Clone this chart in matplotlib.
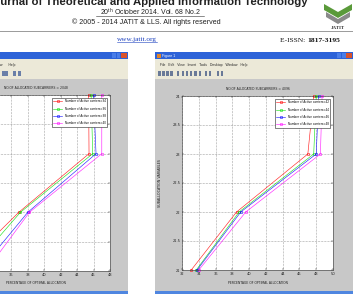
import numpy as np
import matplotlib
matplotlib.use('Agg')
import matplotlib.pyplot as plt
from matplotlib.patches import Rectangle, Polygon
from matplotlib.lines import Line2D

plt.rcParams['mathtext.fontset'] = 'custom'
plt.rcParams['mathtext.rm'] = 'Liberation Sans'

# data (x = percentage of optimal allocation)
levels = [21, 22, 23, 24]

left_labels = ['Number of Active carriers=34', 'Number of Active carriers=36',
               'Number of Active carriers=38', 'Number of Active carriers=40']
left_34 = [29.7, 36.9, 45.45, 45.4]
left_36 = [30.9, 37.1, 45.9, 45.7]
left_38 = [32.1, 38.0, 46.3, 46.0]
left_40 = [32.9, 38.2, 47.0, 47.0]

right_labels = ['Number of Active carriers=42', 'Number of Active carriers=44',
                'Number of Active carriers=46', 'Number of Active carriers=48']
right_42 = [33.1, 38.5, 47.0, 47.7]
right_44 = [33.7, 38.8, 47.7, 48.0]
right_46 = [33.8, 39.0, 48.0, 48.3]
right_48 = [34.0, 39.6, 48.5, 48.7]

colors = ['#ff0000', '#00e000', '#0000ff', '#ff00ff']

W, H = 353, 298
fig = plt.figure(figsize=(W / 100, H / 100), dpi=100)
fig.patch.set_facecolor('white')


def fx(x):
    return x / W


def fy(y):
    return 1 - y / H


def rect(x0, y0, x1, y1, color, z=-5):
    fig.add_artist(Rectangle((fx(x0), fy(y1)), (x1 - x0) / W, (y1 - y0) / H,
                             transform=fig.transFigure, facecolor=color,
                             edgecolor='none', zorder=z))


def hline(x0, x1, y, color, lw=0.6, z=2):
    fig.add_artist(Line2D([fx(x0), fx(x1)], [fy(y), fy(y)], transform=fig.transFigure,
                          color=color, lw=lw, zorder=z))


def txt(x, y, s, **kw):
    fig.text(fx(x), fy(y), s, **kw)


# ---- page header ----
txt(147, 5, 'Journal of Theoretical and Applied Information Technology',
    ha='center', va='baseline', fontsize=8.2, fontweight='bold',
    family='Liberation Sans', color='#222222')
txt(150, 15, r'20$^{\mathrm{th}}$ October 2014. Vol. 68 No.2', ha='center', va='baseline',
    fontsize=5.0, family='Liberation Sans', color='#222222')
hline(96, 204, 16.2, '#333333', lw=0.4)
txt(146, 23.5, '\u00a9 2005 - 2014 JATIT & LLS. All rights reserved',
    ha='center', va='baseline', fontsize=5.1, family='Liberation Sans', color='#222222')
hline(0, 353, 30.5, '#9a9a9a', lw=0.7)
txt(137, 41.5, 'www.jatit.org', ha='center', va='baseline', fontsize=5.2,
    family='Liberation Serif', color='#1a3fbf')
hline(117, 157, 42.5, '#1a3fbf', lw=0.4)
txt(280, 41.5, 'E-ISSN: ', ha='left', va='baseline', fontsize=5.4,
    family='Liberation Serif', color='#111111')
txt(307, 41.5, '1817-3195', ha='left', va='baseline', fontsize=5.4,
    family='Liberation Serif', fontweight='bold', color='#111111')

# logo (rough)
for pts, c in [([(324, 4), (338, 12), (352, 4), (352, 10), (338, 18), (324, 10)], '#5a9a3a'),
               ([(326, 12), (338, 19), (350, 12), (350, 17), (338, 24), (326, 17)], '#8a8a8a')]:
    fig.add_artist(Polygon([(fx(a), fy(b)) for a, b in pts], closed=True,
                           transform=fig.transFigure, facecolor=c, edgecolor='none', zorder=1))
txt(338, 29, 'JATIT', ha='center', va='baseline', fontsize=3.6, fontweight='bold',
    family='Liberation Serif', color='#333333')


# ---- window frames ----
def window(x0, x1, title):
    rect(x0, 52, x1, 59, '#2d63d8')
    rect(x0, 59, x1, 79, '#ece9d8')
    rect(x0, 79, x1, 291, '#c8c8c8')
    rect(x0, 291, x1, 293.5, '#4f86e0')
    rect(x1 - 16, 53, x1 - 12, 58, '#4a7ee8', z=-4)
    rect(x1 - 11.5, 53, x1 - 7.5, 58, '#4a7ee8', z=-4)
    rect(x1 - 7, 53, x1 - 1, 58, '#d8532c', z=-4)
    if title:
        txt(x0 + 7, 57, title, fontsize=2.6, color='white', va='baseline',
            family='Liberation Sans')
        rect(x0 + 2, 53.5, x0 + 5.5, 57.5, '#e0842a', z=-4)


window(0, 128, None)
window(155, 353, 'Figure 1')

txt(0, 66, 'w      Help', fontsize=2.4, va='baseline', family='Liberation Sans', color='#222')
txt(160, 66, 'File   Edit   View   Insert   Tools   Desktop   Window   Help',
    fontsize=2.4, va='baseline', family='Liberation Sans', color='#222')
for x in [2, 5, 13, 18]:
    rect(x, 71, x + 2.5, 76, '#6a7fa8', z=-4)
for x in [158, 162, 166, 170, 177, 182, 186, 190, 194, 199, 205, 209, 217, 221]:
    rect(x, 71, x + 2.5, 76, '#6a7a98', z=-4)


# ---- plots ----
def panel(box, xlim, series, labels, title, show_y, first_xlabel):
    left, top, right, bottom = box
    ax = fig.add_axes([fx(left), fy(bottom), (right - left) / W, (bottom - top) / H])
    ax.set_facecolor('white')
    for xs, c, lab in zip(series, colors, labels):
        ax.plot(xs, levels, '-s', color=c, lw=0.45, ms=2.0, mfc='none', mew=0.45,
                label=lab, clip_on=False, alpha=0.85)
    ax.set_xlim(*xlim)
    ax.set_ylim(21, 24)
    xt = np.arange(xlim[0], xlim[1] + 1, 2)
    ax.set_xticks(xt)
    ax.set_xticklabels(['%g' % v if v >= first_xlabel else '' for v in xt])
    yt = np.arange(21, 24.01, 0.5)
    ax.set_yticks(yt)
    ax.set_yticklabels(['%g' % v if show_y else '' for v in yt])
    ax.grid(True, linestyle=':', color='#555555', lw=0.4)
    ax.tick_params(direction='in', length=1.5, width=0.3, labelsize=2.6, pad=1.2,
                   colors='#222222', top=True, right=True)
    for s in ax.spines.values():
        s.set_linewidth(0.4)
        s.set_color('#333333')
    ax.set_title(title, fontsize=2.25, pad=4.5, color='#222222')
    ax.set_xlabel('PERCENTAGE OF OPTIMAL ALLOCATION', fontsize=2.25, color='#222222')
    ax.xaxis.set_label_coords(0.5, -10.5 / (bottom - top))
    if show_y:
        ax.set_ylabel('SUBALLOCATION VARIABLES', fontsize=2.4, color='#222222')
        ax.yaxis.set_label_coords(-20 / (right - left), 0.5)
    leg = ax.legend(loc='upper right', fontsize=2.0, fancybox=False, framealpha=1,
                    edgecolor='#222222', borderpad=0.6, handlelength=3.2,
                    labelspacing=1.2, borderaxespad=1.0)
    leg.get_frame().set_linewidth(0.4)
    return ax


panel((-38, 95, 110, 271), (30, 48), [left_34, left_36, left_38, left_40], left_labels,
      'NO.OF ALLOCATED SUBCARRIERS = 2048', False, 36)
panel((182, 96, 333, 270), (32, 50), [right_42, right_44, right_46, right_48], right_labels,
      'NO.OF ALLOCATED SUBCARRIERS = 4096', True, 32)

fig.savefig('out.png', dpi=100)
